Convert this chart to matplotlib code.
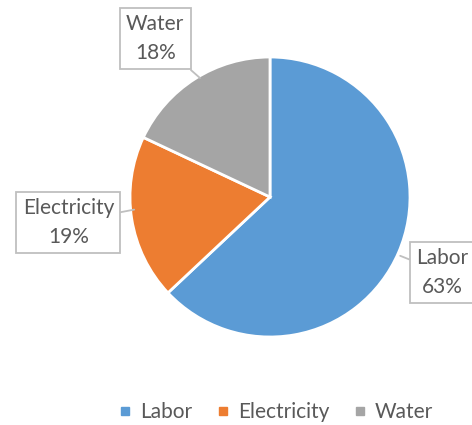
import matplotlib
matplotlib.use('Agg')
import matplotlib.pyplot as plt
from matplotlib.lines import Line2D

plt.rcParams['font.family'] = ['Lato', 'DejaVu Sans']

# cost shares
labels = ['Labor', 'Electricity', 'Water']
shares = [63, 19, 18]
colors = ['#5B9BD5', '#ED7D31', '#A5A5A5']

# callout centres (data units of the pie axes) and where they point on the pie
label_pos = [(1.23, -0.54), (-1.44, -0.18), (-0.82, 1.13)]
tip_pos = [(0.93, -0.42), (-0.97, -0.09), (-0.5, 0.85)]

W, H = 472, 425
fig = plt.figure(figsize=(W / 100, H / 100), dpi=100)
cx, cy, r = 270, 197, 140
ax = fig.add_axes([(cx - r) / W, (H - cy - r) / H, 2 * r / W, 2 * r / H])

wedges, _ = ax.pie(shares, colors=colors, startangle=90, counterclock=False,
                   radius=1, wedgeprops=dict(edgecolor='white', linewidth=2))
ax.set_xlim(-1, 1)
ax.set_ylim(-1, 1)
ax.set_aspect('equal')
ax.axis('off')

total = sum(shares)
for name, val, pos, tip in zip(labels, shares, label_pos, tip_pos):
    ax.annotate(f'{name}\n{val / total * 100:.0f}%', xy=tip, xytext=pos,
                ha='center', va='center', fontsize=15, color='#595959',
                linespacing=1.55, annotation_clip=False,
                bbox=dict(boxstyle='square,pad=0.3', fc='white', ec='#BFBFBF', lw=1.3),
                arrowprops=dict(arrowstyle='-', color='#BFBFBF', lw=1.3,
                                shrinkA=0, shrinkB=0))

handles = [Line2D([], [], marker='s', linestyle='none', markersize=6,
                  markerfacecolor=c, markeredgecolor=c) for c in colors]
fig.legend(handles, labels, loc='center', bbox_to_anchor=(0.585, (H - 412) / H),
           ncol=3, frameon=False, fontsize=15, labelcolor='#595959',
           handlelength=0.6, handletextpad=0.4, columnspacing=1.2)

fig.savefig('out.png', dpi=100, facecolor='white')
